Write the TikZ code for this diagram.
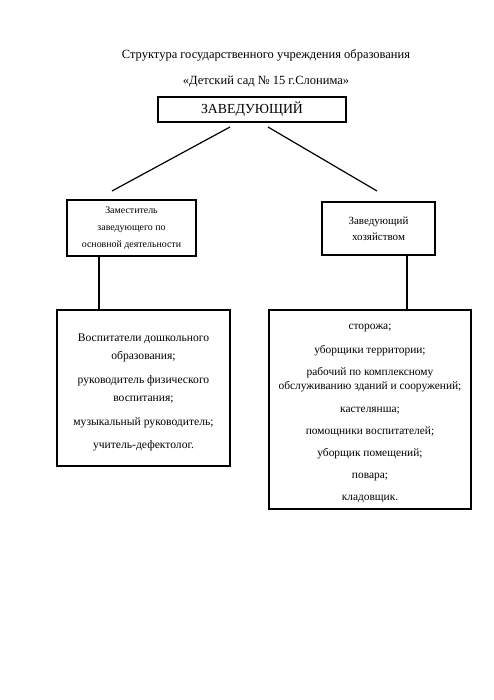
\documentclass[tikz,border=0pt]{standalone}
\usepackage{fontspec}
\setmainfont{Liberation Serif}
\begin{document}
\begin{tikzpicture}[x=1pt,y=-1pt,
  box/.style={draw,line width=1.4pt,rectangle,inner sep=0pt,align=center},
  link/.style={line width=1.2pt},
  stem/.style={line width=2pt},
  ttl/.style={inner sep=0pt,font=\fontsize{12.5}{14}\selectfont}]
\useasboundingbox[fill=white] (0,0) rectangle (494,700);
\node[ttl] (t1) at (266,55.5) {Структура государственного учреждения образования};
\node[ttl] (t2) at (266,81.5) {«Детский сад № 15 г.Слонима»};
\node[box,minimum width=188pt,minimum height=25pt,font=\fontsize{13.8}{15}\selectfont] (zav) at (252,109.5) {ЗАВЕДУЮЩИЙ};
\node[box,minimum width=129pt,minimum height=56pt,font=\fontsize{9.9}{17}\selectfont] (zam) at (131.5,228)
  {Заместитель\\заведующего по\\основной деятельности};
\node[box,minimum width=113pt,minimum height=53pt,font=\fontsize{11}{16}\selectfont] (hoz) at (378.5,228.5)
  {Заведующий\\хозяйством};
\node[box,minimum width=173pt,minimum height=156pt,font=\fontsize{11.6}{18}\selectfont] (vosp) at (143.5,388)
  {\rule{0pt}{16pt}Воспитатели дошкольного\\образования;\\[6pt]
   руководитель физического\\воспитания;\\[6pt]
   музыкальный руководитель;\\[5pt]
   учитель-дефектолог.};
\node[box,minimum width=202pt,minimum height=199pt,font=\fontsize{11.4}{22.5}\selectfont] (pers) at (370,409.5)
  {\rule{0pt}{13pt}сторожа;\\[1pt]
   уборщики территории;\\
   рабочий по комплексному\\[-8.5pt]
   обслуживанию зданий и сооружений;\\
   кастелянша;\\
   помощники воспитателей;\\[-1pt]
   уборщик помещений;\\
   повара;\\[-1pt]
   кладовщик.};
\coordinate (l1) at (230,127);
\coordinate (l2) at (112,191);
\coordinate (r1) at (268,127);
\coordinate (r2) at (377,191);
\draw[link] (l1) -- (l2);
\draw[link] (r1) -- (r2);
\coordinate (vl) at (99,0);
\coordinate (vr) at (407,0);
\draw[stem] (zam.south -| vl) -- (vosp.north -| vl);
\draw[stem] (hoz.south -| vr) -- (pers.north -| vr);
\end{tikzpicture}
\end{document}
